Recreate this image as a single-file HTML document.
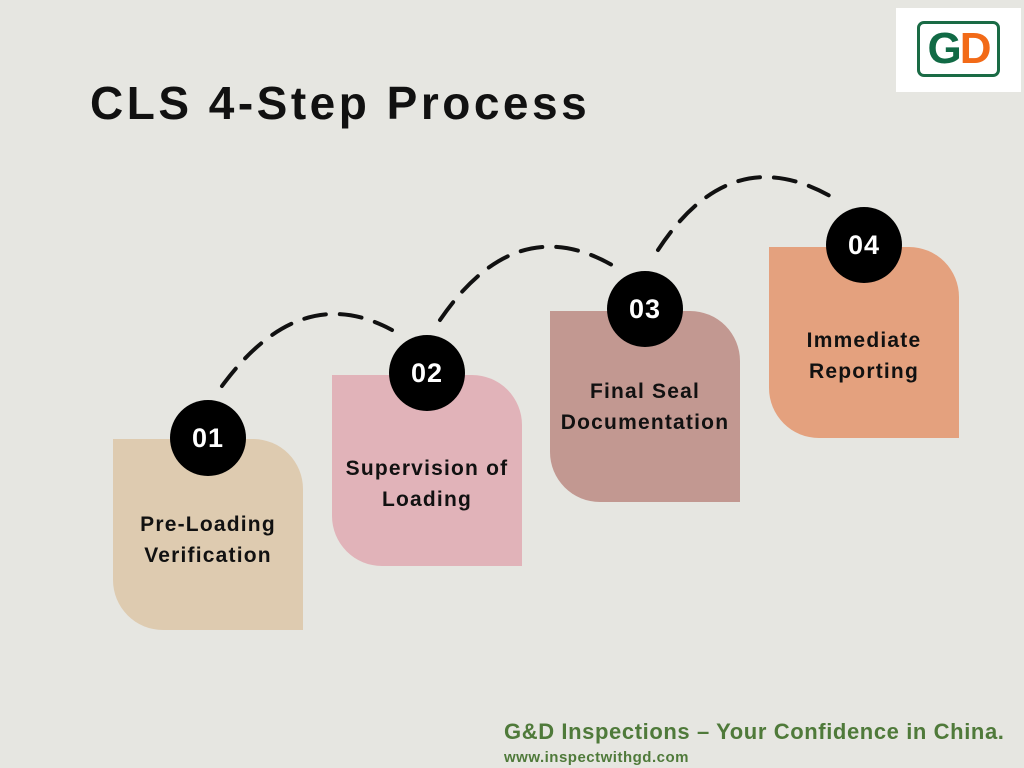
<!DOCTYPE html>
<html><head><meta charset="utf-8"><style>
body{margin:0;width:1024px;height:768px;background:#e6e6e1;position:relative;overflow:hidden;font-family:"Liberation Sans",sans-serif}
.card{position:absolute;width:190px;height:191px;border-radius:0 50px 0 50px;display:flex;align-items:center;justify-content:center;text-align:center;font-weight:bold;font-size:21px;letter-spacing:1.2px;line-height:31px;color:#111;box-sizing:border-box;white-space:nowrap}
.c{position:absolute;width:76px;height:76px;border-radius:50%;background:#000;color:#fff;font-weight:bold;font-size:27px;letter-spacing:1px;display:flex;align-items:center;justify-content:center}
</style></head><body>
<div style="position:absolute;left:896px;top:8px;width:125px;height:84px;background:#fff"></div>
<div style="position:absolute;left:917px;top:21px;width:83px;height:56px;border:3px solid #1a6b45;border-radius:7px;box-sizing:border-box;font-weight:bold;font-size:44px;line-height:50px;text-align:center;letter-spacing:-2px"><span style="color:#116a45">G</span><span style="color:#f26a17">D</span></div>
<div style="position:absolute;left:90px;top:76px;font-size:46px;letter-spacing:3.5px;font-weight:bold;color:#111">CLS 4-Step Process</div>
<svg style="position:absolute;left:0;top:0" width="1024" height="768" fill="none" stroke="#111" stroke-width="4" stroke-dasharray="22,14" stroke-linecap="round">
<path d="M222 386 Q300 280 392 330"/>
<path d="M440 320 Q515 210 612 265"/>
<path d="M658 250 Q730 140 830 196"/>
</svg>
<div class="card" style="left:113px;top:439px;background:#decbb0;padding-top:11px">Pre-Loading<br>Verification</div>
<div class="card" style="left:332px;top:375px;background:#e1b3b9;padding-top:26px">Supervision of<br>Loading</div>
<div class="card" style="left:550px;top:311px;background:#c29891;padding-top:0">Final Seal<br>Documentation</div>
<div class="card" style="left:769px;top:247px;background:#e4a17e;padding-top:27px">Immediate<br>Reporting</div>
<div class="c" style="left:170px;top:400px">01</div>
<div class="c" style="left:389px;top:335px">02</div>
<div class="c" style="left:607px;top:271px">03</div>
<div class="c" style="left:826px;top:207px">04</div>
<div style="position:absolute;left:504px;top:719px;font-size:22px;letter-spacing:0.6px;font-weight:bold;color:#4f7a3a;white-space:nowrap">G&amp;D Inspections – Your Confidence in China.</div>
<div style="position:absolute;left:504px;top:749px;font-size:15px;letter-spacing:0.5px;font-weight:bold;color:#4f7a3a">www.inspectwithgd.com</div>
</body></html>
